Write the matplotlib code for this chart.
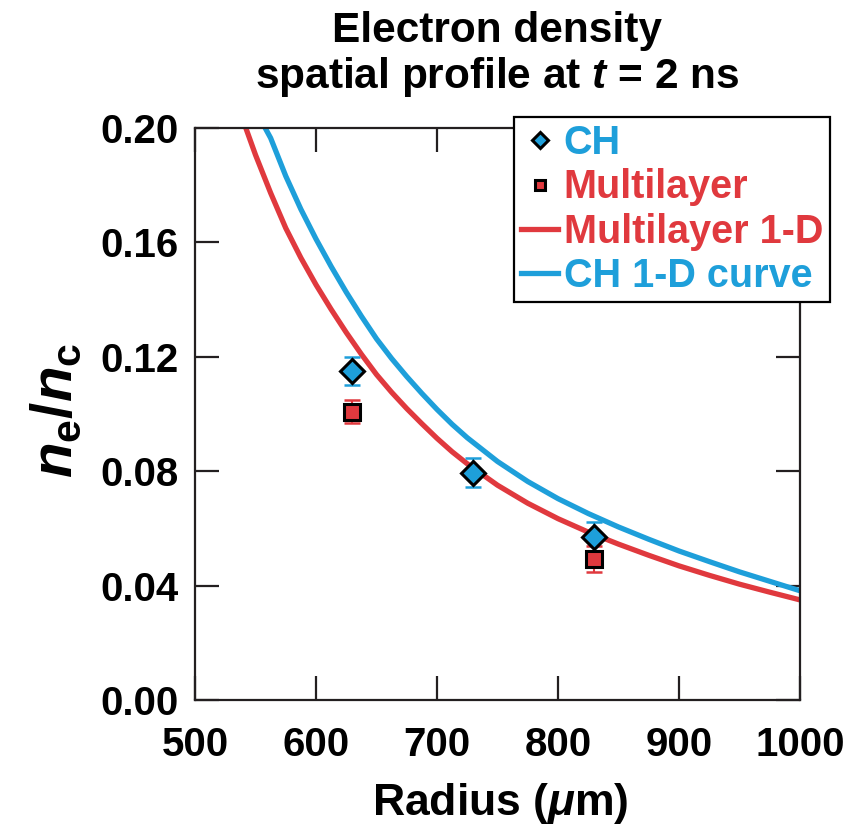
import matplotlib
matplotlib.use('Agg')
import matplotlib.pyplot as plt

# measured points (radius in um, n_e/n_c)
ch_radius = [630, 730, 830]
ch_density = [0.115, 0.0795, 0.0569]
ch_err = [0.005, 0.005, 0.0055]

ml_radius = [630, 830]
ml_density = [0.1008, 0.0492]
ml_err = [0.004, 0.0045]

# 1-D simulation curves
ml_curve_r = [542, 546, 550, 562.5, 575, 587.5, 600, 612.5, 625, 637.5, 650,
              662.5, 675, 687.5, 700, 712.5, 725, 750, 775, 800, 825, 850,
              875, 900, 925, 950, 975, 1000]
ml_curve_n = [0.200, 0.1953, 0.1906, 0.1773, 0.165, 0.1546, 0.1452, 0.1366,
              0.1285, 0.1209, 0.1138, 0.1076, 0.1019, 0.0966, 0.0915, 0.0868,
              0.0826, 0.0751, 0.0688, 0.0634, 0.0587, 0.0545, 0.0506, 0.0469,
              0.0436, 0.0405, 0.0377, 0.0350]

ch_curve_r = [558, 562.5, 575, 587.5, 600, 612.5, 625, 637.5, 650, 662.5, 675,
              687.5, 700, 712.5, 725, 750, 775, 800, 825, 850, 875, 900, 925,
              950, 975, 1000]
ch_curve_n = [0.200, 0.1965, 0.1832, 0.1716, 0.1612, 0.1516, 0.1426, 0.1342,
              0.1263, 0.1194, 0.1131, 0.1072, 0.1016, 0.0964, 0.0917, 0.0834,
              0.0764, 0.0704, 0.0652, 0.0605, 0.0562, 0.0521, 0.0484, 0.0448,
              0.0415, 0.0382]

x_ticks = [500, 600, 700, 800, 900, 1000]
y_ticks = [0.00, 0.04, 0.08, 0.12, 0.16, 0.20]

BLUE = '#1e9fda'
RED = '#e0393e'
DARK = '#231f20'

plt.rcParams['font.family'] = 'Liberation Sans'
plt.rcParams['font.weight'] = 'bold'
plt.rcParams['mathtext.fontset'] = 'custom'
plt.rcParams['mathtext.rm'] = 'Liberation Sans:bold'
plt.rcParams['mathtext.it'] = 'Liberation Sans:italic:bold'
plt.rcParams['mathtext.bf'] = 'Liberation Sans:bold'

W, H = 858, 833
fig = plt.figure(figsize=(W / 100, H / 100), dpi=100)
ax = fig.add_axes([195 / W, 1 - 700 / H, 605 / W, 572 / H])

ml_line, = ax.plot(ml_curve_r, ml_curve_n, color=RED, lw=3.8, zorder=2,
                   solid_joinstyle='round')
ch_line, = ax.plot(ch_curve_r, ch_curve_n, color=BLUE, lw=3.8, zorder=2,
                   solid_joinstyle='round')

ax.errorbar(ch_radius, ch_density, yerr=ch_err, fmt='none', ecolor=BLUE,
            elinewidth=1.5, capsize=5.5, capthick=1.8, zorder=3)
ax.errorbar(ml_radius, ml_density, yerr=ml_err, fmt='none', ecolor=RED,
            elinewidth=1.5, capsize=5.5, capthick=1.8, zorder=3)
ch_pts, = ax.plot(ch_radius, ch_density, 'D', ms=12.5, mfc=BLUE, mec='black',
                  mew=2.2, zorder=4)
ml_pts, = ax.plot(ml_radius, ml_density, 's', ms=11.5, mfc=RED, mec='black',
                  mew=2.2, zorder=4)

ax.set_xlim(500, 1000)
ax.set_ylim(0, 0.20)
ax.set_xticks(x_ticks)
ax.set_xticklabels([str(t) for t in x_ticks])
ax.set_yticks(y_ticks)
ax.set_yticklabels(['%.2f' % t for t in y_ticks])
ax.tick_params(direction='in', top=True, right=True, length=17, width=1.6,
               color=DARK, labelsize=29)
ax.tick_params(axis='x', pad=19)
ax.tick_params(axis='y', pad=12)
for s in ax.spines.values():
    s.set_linewidth(1.6)
    s.set_color(DARK)

fig.text(497 / W, 1 - 31 / H, 'Electron density', ha='center', va='center',
         fontsize=30.5)
fig.text(497 / W, 1 - 77 / H, 'spatial profile at $t$ = 2 ns', ha='center',
         va='center', fontsize=30.5)
fig.text(500 / W, 1 - 815 / H, r'Radius ($\mu$m)', ha='center', va='baseline',
         fontsize=32)
fig.text(57 / W, 1 - 410 / H, r'$n_\mathrm{e}/n_\mathrm{c}$', ha='center',
         va='center', rotation=90, fontsize=42)

leg = ax.legend([ch_pts, ml_pts, ml_line, ch_line],
                ['CH', 'Multilayer', 'Multilayer 1-D', 'CH 1-D curve'],
                loc='upper right', bbox_to_anchor=(830 / W, 1 - 117 / H),
                bbox_transform=fig.transFigure, borderaxespad=0,
                fontsize=28.5, markerscale=0.65, handlelength=0.95,
                handletextpad=0.13, borderpad=0.18, labelspacing=0.16,
                fancybox=False, framealpha=1, edgecolor='black')
leg.get_frame().set_linewidth(1.6)
for txt, c in zip(leg.get_texts(), [BLUE, RED, RED, BLUE]):
    txt.set_color(c)

fig.savefig('out.png', dpi=100)
